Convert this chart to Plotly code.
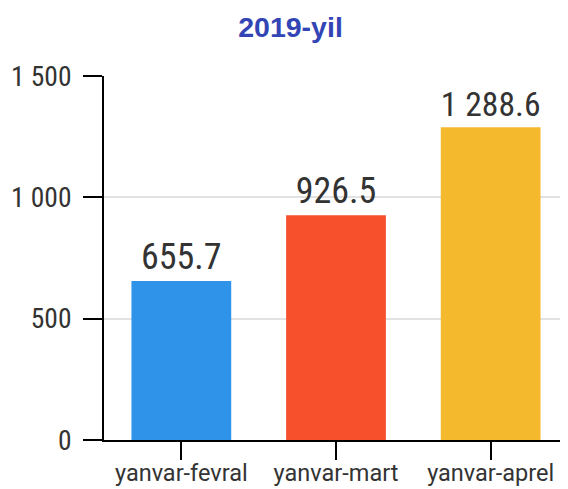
import plotly.graph_objects as go

categories = ["yanvar-fevral", "yanvar-mart", "yanvar-aprel"]
values = [655.7, 926.5, 1288.6]
colors = ["#2f93e9", "#f6502d", "#f5b92d"]
y_ticks = [0, 500, 1000, 1500]
title = "2019-yil"

font_n = "Roboto Condensed, Liberation Sans Narrow, Roboto, sans-serif"
font_x = "Roboto, sans-serif"

fig = go.Figure(go.Bar(
    x=categories, y=values, marker=dict(color=colors, line=dict(width=0)),
    text=values, texttemplate="%{y:,.1f}", textposition="outside",
    textfont=dict(family=font_n, size=36, color="#333333"),
    cliponaxis=False, width=0.645,
))

fig.update_layout(
    width=560, height=481,
    margin=dict(l=96, r=0, t=68, b=49, pad=0, autoexpand=False),
    paper_bgcolor="white", plot_bgcolor="white",
    separators=". ",
    showlegend=False,
    title=dict(text="<b>" + title + "</b>", x=0.5045, xanchor="center", y=0.96, yanchor="middle",
               font=dict(family="Liberation Sans, Arial, sans-serif", size=28.5, color="#3345b5")),
    font=dict(family=font_n, color="#333333"),
)
fig.update_yaxes(
    range=[0, 1500], tickvals=y_ticks, tickformat=",d",
    ticks="outside", ticklen=19, tickwidth=2, tickcolor="black",
    showline=True, linecolor="black", linewidth=2,
    showgrid=True, gridcolor="#e2e2e2", gridwidth=2,
    zeroline=False, ticklabelstandoff=6, automargin=False,
    tickfont=dict(family=font_n, size=27.5, color="#333333"),
)
fig.update_xaxes(
    ticks="outside", ticklen=18, tickwidth=2, tickcolor="black",
    showline=True, linecolor="black", linewidth=2,
    automargin=False, ticklabelstandoff=-7,
    tickfont=dict(family=font_x, size=23.5, color="#333333"),
)

fig.write_html("out.html")
